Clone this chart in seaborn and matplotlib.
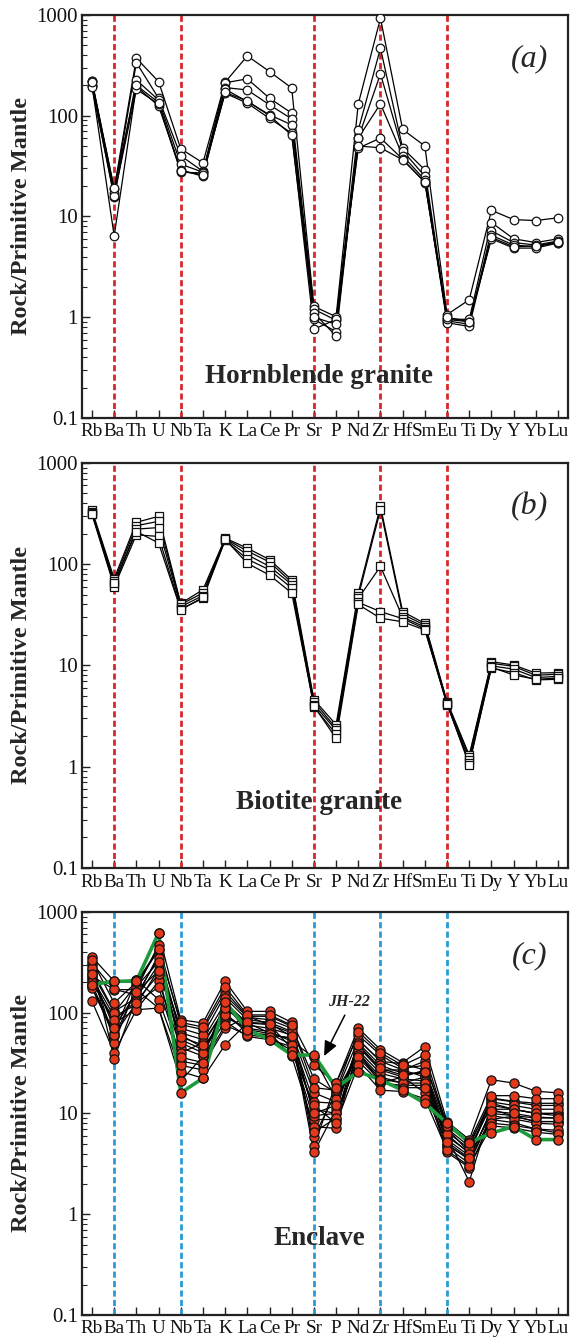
import numpy as np
import pandas as pd
import matplotlib
matplotlib.use("Agg")
import matplotlib.pyplot as plt
from matplotlib.ticker import LogLocator, FixedLocator, NullFormatter
import seaborn as sns

# trace elements, primitive-mantle normalised
ELEMENTS = ["Rb", "Ba", "Th", "U", "Nb", "Ta", "K", "La", "Ce", "Pr", "Sr",
            "P", "Nd", "Zr", "Hf", "Sm", "Eu", "Ti", "Dy", "Y", "Yb", "Lu"]
DIVIDERS = ["Ba", "Nb", "Sr", "Zr", "Eu"]

# (a) hornblende granite
hbl_samples = [
    [223, 18.7, 372, 218, 46.9, 34, 215, 392, 274, 188, 1.28, 1.01, 131, 927, 73, 50, 1.06, 1.49, 11.5, 9.3, 9.1, 9.7],
    [220, 17, 336, 149, 40, 28, 212, 232, 149, 106, 1.2, 0.93, 72, 467, 47.6, 29, 0.96, 0.95, 8.7, 6.0, 5.5, 6.0],
    [195, 15.5, 226, 143, 33, 27.5, 190, 180, 128, 93, 0.95, 0.72, 60, 260, 45, 25, 0.92, 0.85, 7.2, 5.5, 5.2, 5.7],
    [200, 6.4, 195, 125, 29, 25, 183, 138, 102, 81, 1.1, 0.65, 60, 131, 40, 23, 0.88, 0.81, 6.5, 5.2, 5.0, 5.5],
    [192, 16, 183, 130, 27.5, 27, 167, 133, 94, 67, 0.76, 0.95, 47.6, 60, 37, 21.7, 0.95, 0.9, 6.0, 4.85, 4.85, 5.45],
    [215, 19, 200, 135, 28, 26, 170, 140, 100, 64, 1.0, 0.85, 50, 48, 36.5, 22, 1.0, 0.9, 6.2, 5.0, 5.1, 5.6],
]

# (b) biotite granite
bt_samples = [
    [340, 72, 259, 297, 41, 56, 181, 144, 111, 70, 4.6, 2.6, 52, 373, 34, 26, 4.4, 1.3, 10.9, 10.1, 8.4, 8.5],
    [330, 68, 240, 265, 40, 52, 178, 135, 105, 66, 4.4, 2.4, 48, 345, 32, 25, 4.3, 1.25, 10.5, 9.8, 8.0, 8.2],
    [320, 62, 222, 230, 38, 49, 175, 124, 95, 63, 4.1, 2.3, 46, 95, 30, 24, 4.2, 1.16, 9.9, 9.2, 7.6, 7.8],
    [310, 60, 195, 188, 36, 46, 172, 112, 88, 58, 3.9, 2.1, 42, 34, 29, 23, 4.1, 1.1, 9.4, 8.5, 7.2, 7.3],
    [315, 65, 210, 162, 35.5, 47, 176, 102, 78, 52, 4.0, 1.9, 40, 29.3, 27, 22.4, 4.2, 1.04, 9.6, 8.05, 7.3, 7.5],
]

# (c) mafic enclaves
encl_samples = [
    [357, 205, 212, 618, 85, 79, 205, 103, 103, 80, 30, 20, 70, 43, 32, 46, 8.3, 5.5, 21.6, 20, 16.6, 16],
    [311, 169, 169, 473, 76, 68, 163, 92, 92, 73, 22, 16, 54, 33, 27, 33, 7.1, 4.7, 14.2, 13.2, 12.6, 12.6],
    [267, 103, 140, 377, 63, 54, 125, 79, 76, 63, 16, 13, 46, 27, 23, 27, 5.9, 4.1, 12.6, 11, 10, 10],
    [221, 92, 120, 267, 54, 43, 99, 63, 60, 56, 13, 12.6, 40, 23, 20, 23, 4.9, 3.5, 11, 9.4, 8.3, 8.3],
    [212, 79, 107, 205, 45, 37, 82, 58, 54, 46, 11, 10, 33, 20, 19, 19, 4.1, 2.9, 8.7, 8.1, 7, 6.4],
    [190, 63, 212, 135, 33, 30, 70, 92, 76, 44, 8.7, 8.7, 54, 33, 31, 27, 7.1, 4.1, 14, 13, 12, 12],
    [182, 58, 169, 111, 26, 22.4, 48, 79, 63, 37, 7.4, 7.1, 46, 27, 27, 23, 5.9, 2.1, 11, 11, 10, 10],
    [130, 40, 107, 111, 21, 36.8, 125, 63, 60, 56, 5.9, 16, 40, 20, 23, 16, 4.9, 3.5, 8.7, 9.4, 8.3, 8.3],
    [300, 35, 140, 300, 70, 60, 150, 90, 85, 70, 4.7, 20, 60, 38, 28, 30, 8, 5, 13, 12, 11, 11],
    [250, 100, 190, 420, 40, 50, 110, 75, 70, 60, 4.1, 11, 50, 30, 25, 25, 6.5, 4.5, 12, 11, 10, 9.5],
    [230, 170, 150, 350, 60, 45, 90, 70, 65, 52, 36, 14, 42, 25, 22, 21, 5.5, 3.8, 10, 9.5, 9, 9],
    [200, 85, 130, 240, 30, 27, 140, 85, 80, 65, 9.5, 10, 38, 22, 20, 20, 4.6, 3.2, 9.5, 8.8, 8, 7.8],
    [280, 50, 180, 320, 50, 40, 95, 68, 62, 48, 6.5, 9, 36, 21, 18, 18, 6.2, 4.0, 8.0, 7.6, 7, 6.8],
    [330, 125, 200, 430, 80, 72, 180, 95, 95, 75, 18, 17, 65, 40, 30, 38, 7.5, 5.2, 15, 15, 14, 14],
    [175, 60, 125, 180, 36, 32, 75, 60, 57, 42, 12, 8, 30, 17, 16.5, 14, 4.3, 3.0, 7.5, 7.2, 6.5, 6.2],
    [240, 70, 160, 260, 57, 48, 110, 80, 78, 58, 10, 12, 48, 28, 24, 26, 5.2, 3.6, 10.5, 10, 9.2, 9],
]
jh22 = [190, 205, 205, 618, 16, 22.4, 128, 68, 54, 38, 38, 18, 26, 21.5, 17, 12.6, 8, 5.1, 6.4, 7.4, 5.5, 5.5]

YTICKS = [0.1, 1, 10, 100, 1000]
YTICK_LABELS = ["0.1", "1", "10", "100", "1000"]


def to_long(rows, prefix):
    recs = []
    for i, row in enumerate(rows):
        for j, v in enumerate(row):
            recs.append({"sample": f"{prefix}{i}", "pos": j, "value": v})
    return pd.DataFrame(recs)


sns.set_style("ticks")
plt.rcParams["font.family"] = ["Liberation Serif", "DejaVu Serif"]

fig = plt.figure(figsize=(5.87, 13.43), dpi=100)
left, width = 0.1397, 0.8279
axes_rect = [
    [left, 0.6888, width, 0.3001],
    [left, 0.3537, width, 0.3016],
    [left, 0.0209, width, 0.3001],
]

panels = [
    dict(df=to_long(hbl_samples, "a"), marker="o", face="white", size=38,
         div_color="#d8262b", tag="(a)", name="Hornblende granite", name_y=0.26),
    dict(df=to_long(bt_samples, "b"), marker="s", face="white", size=36,
         div_color="#d8262b", tag="(b)", name="Biotite granite", name_y=0.44),
    dict(df=to_long(encl_samples, "c"), marker="o", face="#e2381c", size=44,
         div_color="#2a9ad6", tag="(c)", name="Enclave", name_y=0.58),
]

for rect, p in zip(axes_rect, panels):
    ax = fig.add_axes(rect)
    ax.set_yscale("log")
    df = p["df"]

    # dashed reference lines
    for el in DIVIDERS:
        ax.axvline(ELEMENTS.index(el), color=p["div_color"], lw=2.0,
                   ls=(0, (2.2, 1.2)), zorder=1)

    sns.lineplot(data=df, x="pos", y="value", units="sample", estimator=None,
                 color="black", lw=0.9, ax=ax, zorder=2, legend=False)

    if p["tag"] == "(c)":
        jdf = pd.DataFrame({"pos": range(len(ELEMENTS)), "value": jh22})
        sns.lineplot(data=jdf, x="pos", y="value", color="#1c9a3c", lw=2.6,
                     ax=ax, zorder=3, legend=False)
        df = pd.concat([df, jdf.assign(sample="jh22")])

    sns.scatterplot(data=df, x="pos", y="value", marker=p["marker"],
                    color=p["face"], edgecolor="#111111", linewidth=0.9,
                    s=p["size"], ax=ax, zorder=4, legend=False)

    ax.set_xlim(-0.45, 21.45)
    ax.set_ylim(0.1, 1000)
    ax.set_xticks(range(len(ELEMENTS)))
    ax.set_xticklabels(ELEMENTS, fontsize=13.8)
    ax.yaxis.set_major_locator(FixedLocator(YTICKS))
    ax.set_yticklabels(YTICK_LABELS, fontsize=15)
    ax.yaxis.set_minor_locator(LogLocator(base=10, subs=np.arange(2, 10), numticks=20))
    ax.yaxis.set_minor_formatter(NullFormatter())
    ax.tick_params(axis="both", which="major", direction="in", length=6, width=1.0, colors="#222222")
    ax.tick_params(axis="y", which="minor", direction="in", length=3.5, width=0.8)
    ax.tick_params(axis="x", pad=4)
    ax.tick_params(axis="y", pad=3)
    for lab in ax.get_xticklabels() + ax.get_yticklabels():
        lab.set_color("#111111")
    for sp in ax.spines.values():
        sp.set_linewidth(1.6)
        sp.set_color("#222222")

    ax.set_xlabel("")
    ax.set_ylabel("Rock/Primitive Mantle", fontsize=17.5, fontweight="bold", labelpad=3)

    ax.text(19.7, 370, p["tag"], fontsize=23, style="italic", ha="center", va="center")
    ax.text(10.25, p["name_y"], p["name"], fontsize=19.5, fontweight="bold",
            ha="center", va="center")

    if p["tag"] == "(c)":
        ax.text(11.6, 128, "JH-22", fontsize=11.5, fontweight="bold", style="italic",
                ha="center", va="center")
        ax.annotate("", xy=(10.4, 35), xytext=(11.45, 100),
                    arrowprops=dict(arrowstyle="-|>,head_length=0.9,head_width=0.4",
                                    color="black", lw=1.1))

fig.savefig("out.png", dpi=100)
